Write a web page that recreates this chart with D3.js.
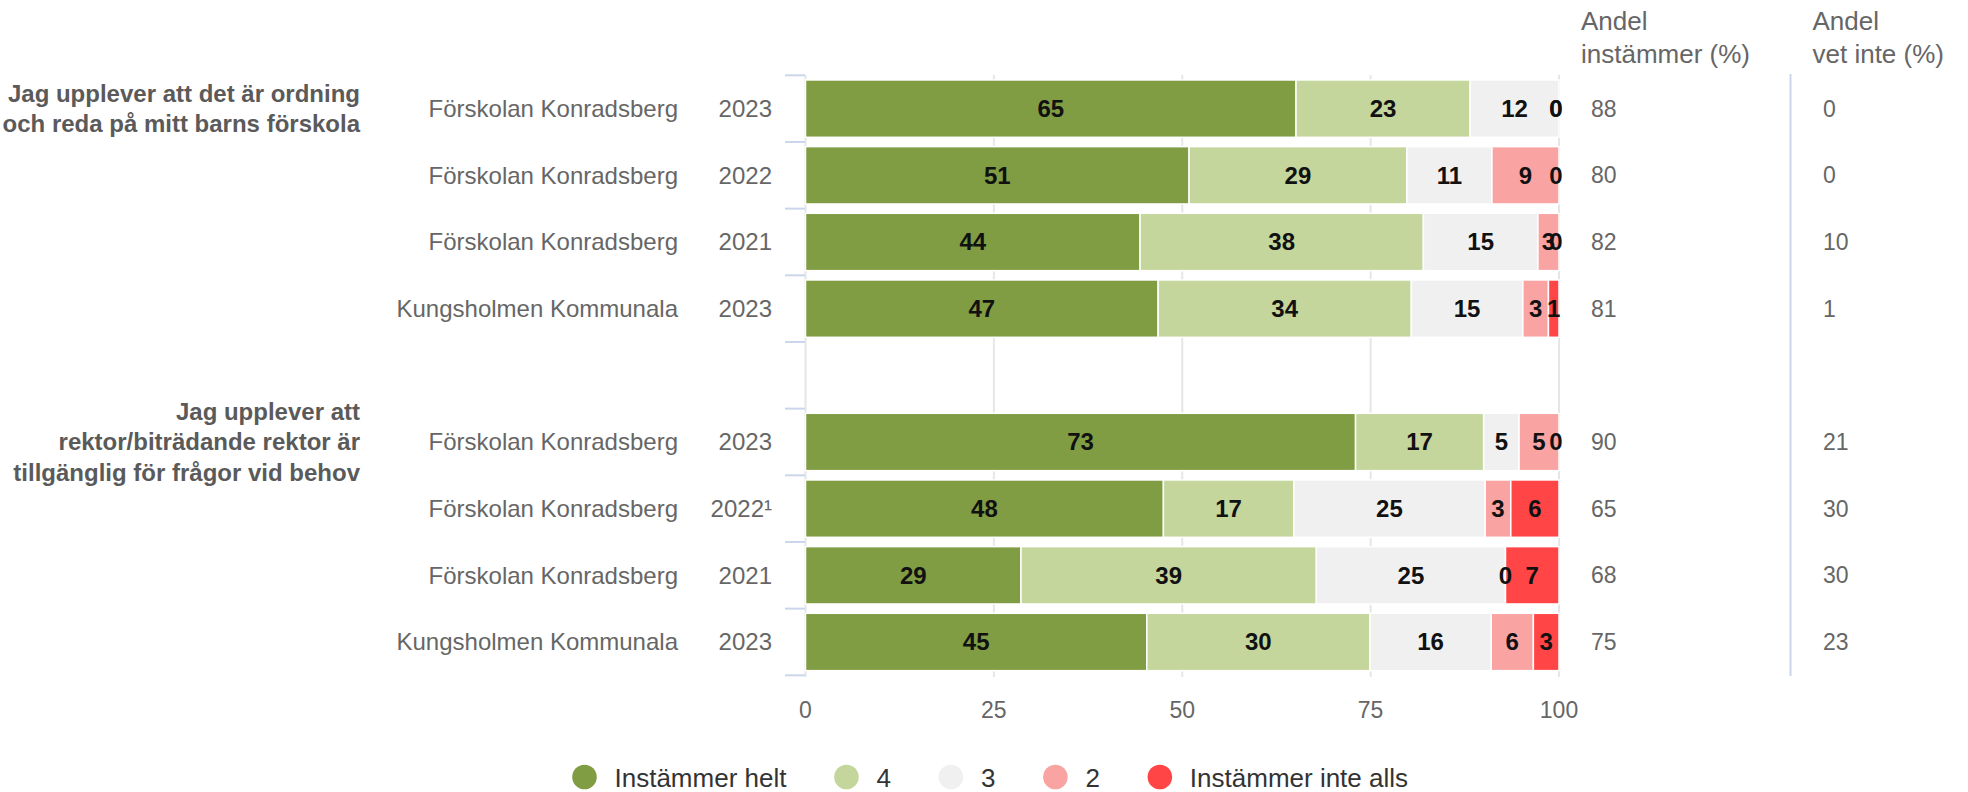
<!DOCTYPE html>
<html>
<head>
<meta charset="utf-8">
<script src="https://cdn.jsdelivr.net/npm/d3@7"></script>
<style>
  html, body { margin: 0; padding: 0; background: #fff; }
  svg { display: block; font-family: "Liberation Sans", Arial, sans-serif; }
</style>
</head>
<body>
<svg id="chart" width="1968" height="792"></svg>
<script>
// ---------- DATA ----------
const groupLabels = [
  ["Jag upplever att det är ordning", "och reda på mitt barns förskola"],
  ["Jag upplever att", "rektor/biträdande rektor är", "tillgänglig för frågor vid behov"]
];
const groupFirstRow = [0, 4];
const units = ["Förskolan Konradsberg", "Förskolan Konradsberg", "Förskolan Konradsberg", "Kungsholmen Kommunala",
               "Förskolan Konradsberg", "Förskolan Konradsberg", "Förskolan Konradsberg", "Kungsholmen Kommunala"];
const years = ["2023", "2022", "2021", "2023", "2023", "2022\u00B9", "2021", "2023"];
const seriesNames = ["Instämmer helt", "4", "3", "2", "Instämmer inte alls"];
const helt     = [65.1, 50.9, 44.4, 46.8, 73.0, 47.5, 28.6, 45.3];
const fyra     = [23.1, 28.9, 37.6, 33.6, 17.0, 17.3, 39.2, 29.6];
const tre      = [11.8, 11.3, 15.2, 14.8,  4.7, 25.4, 25.1, 16.1];
const tva      = [ 0.0,  8.9,  2.8,  3.4,  5.3,  3.4,  0.0,  5.6];
const inteAlls = [ 0.0,  0.0,  0.0,  1.4,  0.0,  6.4,  7.1,  3.4];
const andelInstammer = [88, 80, 82, 81, 90, 65, 68, 75];
const andelVetInte   = [0, 0, 10, 1, 21, 30, 30, 23];
const xTicks = [0, 25, 50, 75, 100];
const colHeaders = [["Andel", "instämmer (%)"], ["Andel", "vet inte (%)"]];

// ---------- STYLE ----------
const colors = ["#809d43", "#c4d69c", "#f0f0f0", "#f9a3a3", "#ff4545"];
const bandIndex = [0, 1, 2, 3, 5, 6, 7, 8];

const svg = d3.select("#chart");
const x = d3.scaleLinear().domain([0, 100]).range([805.5, 1559]);
const y = d3.scaleBand().domain(d3.range(9)).range([75.3, 675.3]).paddingInner(0.14).paddingOuter(0.07);
const bw = y.bandwidth();

const seriesVals = [helt, fyra, tre, tva, inteAlls];
const rows = units.map((u, i) => {
  let acc = 0;
  const segs = seriesVals.map((arr, s) => {
    const seg = { s, v: arr[i], x0: acc, x1: acc + arr[i] };
    acc += arr[i];
    return seg;
  });
  return { i, band: bandIndex[i], segs };
});

// gridlines
svg.append("g").selectAll("line").data(xTicks).join("line")
  .attr("x1", d => x(d)).attr("x2", d => x(d))
  .attr("y1", 75).attr("y2", 677)
  .attr("stroke", "#e6e6e6").attr("stroke-width", 2);

// band ticks (left)
const tickYs = d3.range(10).map(k => y.range()[0] + k * y.step());
svg.append("g").selectAll("line").data(tickYs).join("line")
  .attr("x1", 785).attr("x2", 805)
  .attr("y1", d => d).attr("y2", d => d)
  .attr("stroke", "#ccd6eb").attr("stroke-width", 2);

// bars
const rowG = svg.append("g").selectAll("g").data(rows).join("g")
  .attr("transform", d => `translate(0,${y(d.band)})`);
rowG.selectAll("rect").data(d => d.segs.filter(s => s.v > 0)).join("rect")
  .attr("x", d => x(d.x0)).attr("width", d => x(d.x1) - x(d.x0))
  .attr("y", 0).attr("height", bw)
  .attr("fill", d => colors[d.s])
  .attr("stroke", "#fff").attr("stroke-width", 1.5);
rowG.selectAll("text").data(d => d.segs).join("text")
  .attr("x", d => x((d.x0 + d.x1) / 2) - (d.v === 0 && d.x1 >= 99.9 ? 3 : 0))
  .attr("y", bw / 2).attr("dy", "0.35em")
  .attr("text-anchor", "middle")
  .attr("font-size", 24).attr("font-weight", "bold").attr("fill", "#111")
  .text(d => Math.round(d.v));

// category + year labels
svg.append("g").selectAll("text").data(rows).join("text")
  .attr("x", 678).attr("y", d => y(d.band) + bw / 2).attr("dy", "0.35em")
  .attr("text-anchor", "end").attr("font-size", 24).attr("fill", "#666")
  .text(d => units[d.i]);
svg.append("g").selectAll("text").data(rows).join("text")
  .attr("x", 772).attr("y", d => y(d.band) + bw / 2).attr("dy", "0.35em")
  .attr("text-anchor", "end").attr("font-size", 24).attr("fill", "#666")
  .text(d => years[d.i]);

// group labels
groupLabels.forEach((lines, g) => {
  const cy = y(bandIndex[groupFirstRow[g]]) + bw / 2;
  const lh = 30.5;
  const t = svg.append("text").attr("text-anchor", "end")
    .attr("font-size", 24).attr("font-weight", "bold").attr("fill", "#5a5a5a");
  lines.forEach((ln, k) => {
    t.append("tspan").attr("x", 360)
      .attr("y", cy + (k - (lines.length - 1) / 2) * lh).attr("dy", "0.35em").text(ln);
  });
});

// x axis labels
svg.append("g").selectAll("text").data(xTicks).join("text")
  .attr("x", d => x(d)).attr("y", 718).attr("text-anchor", "middle")
  .attr("font-size", 23).attr("fill", "#666").text(d => d);

// right columns
const colX = [1581, 1812.5];
const valX = [1591, 1823];
colHeaders.forEach((lines, c) => {
  lines.forEach((ln, k) => {
    svg.append("text").attr("x", colX[c]).attr("y", 30 + k * 33)
      .attr("font-size", 26).attr("fill", "#666").text(ln);
  });
});
[andelInstammer, andelVetInte].forEach((arr, c) => {
  svg.append("g").selectAll("text").data(rows).join("text")
    .attr("x", valX[c]).attr("y", d => y(d.band) + bw / 2).attr("dy", "0.35em")
    .attr("font-size", 23).attr("fill", "#666").text(d => arr[d.i]);
});
svg.append("line").attr("x1", 1790.5).attr("x2", 1790.5).attr("y1", 74).attr("y2", 676)
  .attr("stroke", "#ccd6eb").attr("stroke-width", 2);

// legend
const leg = svg.append("g");
let lx = 0;
const items = [];
seriesNames.forEach((n, i) => {
  const g = leg.append("g");
  g.append("circle").attr("cx", lx + 12).attr("cy", 777).attr("r", 12.3).attr("fill", colors[i]);
  const t = g.append("text").attr("x", lx + 42).attr("y", 786.5)
    .attr("font-size", 26).attr("fill", "#333").text(n);
  const w = t.node().getComputedTextLength();
  lx = lx + 42 + w + 48;
});
const totalW = lx - 48;
leg.attr("transform", `translate(${572.5 - 0},0)`);
</script>
</body>
</html>
